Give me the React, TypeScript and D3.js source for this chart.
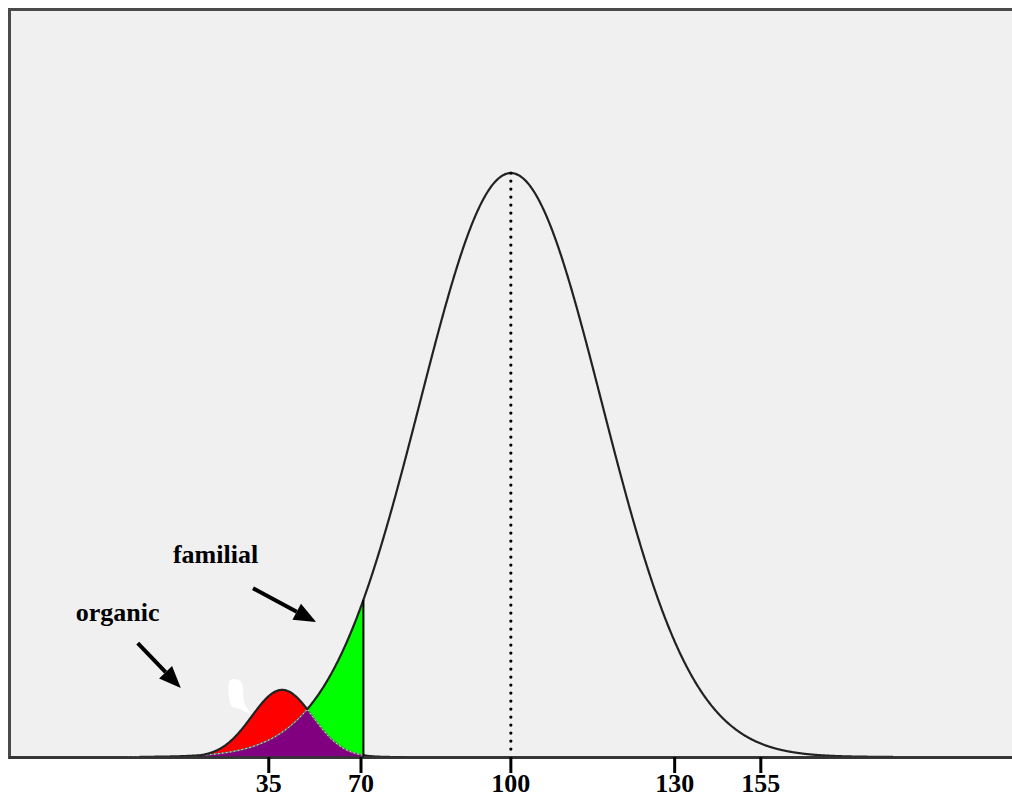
import * as d3 from "d3"

// two bell curves: familial (main population) and organic
const curveNames = ["familial", "organic"]
const curveMeans = [100, 62.3]
const curveSds = [15, 5]
const curvePeaks = [1, 0.115]

// shaded region ends here (IQ)
const cutoff = 75.7

// tick labels, and where the original figure puts them on the curve scale
const tickLabels = ["35", "70", "100", "130", "155"]
const tickAt = [60.1, 75.3, 100, 127.0, 141.2]

// annotation text and arrows in data units (IQ, relative height)
const noteText = ["familial", "organic"]
const noteAt: [number, number][] = [[44.3, 0.332], [28.3, 0.233]]
const arrowFrom: [number, number][] = [[57.5, 0.289], [38.5, 0.195]]
const arrowTo: [number, number][] = [[67.9, 0.231], [45.6, 0.118]]

const W = 1012
const H = 797
const margin = { top: 9, left: 9, bottom: 40 }

const pdf = (v: number, i: number) =>
  curvePeaks[i] * Math.exp(-0.5 * ((v - curveMeans[i]) / curveSds[i]) ** 2)
const main = (v: number) => pdf(v, 0)
const organic = (v: number) => pdf(v, 1)

export default function App() {
  const base = H - margin.bottom
  const x = d3.scaleLinear().domain([15.8, 182.6]).range([0, W])
  const y = d3.scaleLinear().domain([0, 1.281]).range([base, margin.top])

  const grid = (a: number, b: number) => [...d3.range(a, b, 0.1), b]

  const shaded = grid(37, cutoff)
  const areaOf = (f: (v: number) => number) =>
    d3.area<number>().x((d) => x(d)).y0(y(0)).y1((d) => y(f(d)))(shaded)!

  const line = (f: (v: number) => number, pts: number[], def?: (v: number) => boolean) =>
    d3
      .line<number>()
      .defined(def ?? (() => true))
      .x((d) => x(d))
      .y((d) => y(f(d)))(pts)!

  const envelope = line((v) => Math.max(main(v), organic(v)), grid(38.8, 163))
  const mainUnder = line(main, shaded, (v) => main(v) < organic(v) && v > 49)
  const orgUnder = line(organic, shaded, (v) => organic(v) <= main(v))
  const orgTail = line(organic, grid(cutoff, 82.5))

  const arrows = arrowFrom.map((f, i) => {
    const [x1, y1] = [x(f[0]), y(f[1])]
    const [x2, y2] = [x(arrowTo[i][0]), y(arrowTo[i][1])]
    const len = Math.hypot(x2 - x1, y2 - y1)
    const ux = (x2 - x1) / len
    const uy = (y2 - y1) / len
    const hl = 22
    const hw = 9
    const bx = x2 - ux * hl
    const by = y2 - uy * hl
    const head = `M${x2},${y2}L${bx - uy * hw},${by + ux * hw}L${bx + uy * hw},${by - ux * hw}Z`
    return { x1, y1, bx, by, head }
  })

  const font = "'Liberation Serif', 'Times New Roman', serif"

  // stray white blot in the original figure, placed in data units
  const blot = d3.line().curve(d3.curveCardinalClosed)([
    [x(53.6), y(0.13)],
    [x(55.6), y(0.128)],
    [x(56.0), y(0.095)],
    [x(57.0), y(0.075)],
    [x(55.4), y(0.082)],
    [x(53.8), y(0.09)],
  ])!

  return (
    <svg width={W} height={H} style={{ position: "absolute", left: 0, top: 0, background: "#fff" }}>
      <rect
        x={margin.left + 0.5}
        y={margin.top + 0.5}
        width={W + 20}
        height={base - margin.top}
        fill="#f0f0f0"
        stroke="#4a4a4a"
        strokeWidth={3}
      />

      {/* shaded regions */}
      <path d={areaOf(main)} fill="#00ff00" />
      <path d={areaOf(organic)} fill="#ff0000" />
      <path d={areaOf((v) => Math.min(main(v), organic(v)))} fill="#800080" />

      <path d={blot} fill="#fff" />

      {/* inner boundaries */}
      {[mainUnder, orgUnder].map((d, i) => (
        <g key={i}>
          <path d={d} fill="none" stroke="#666" strokeWidth={1.6} />
          <path d={d} fill="none" stroke="#fff" strokeWidth={1} strokeDasharray="1.5 2.5" />
        </g>
      ))}

      <path d={orgTail} fill="none" stroke="#222" strokeWidth={2} />
      <path d={envelope} fill="none" stroke="#222" strokeWidth={2.2} />

      {/* cutoff line */}
      <line x1={x(cutoff)} x2={x(cutoff)} y1={y(0)} y2={y(main(cutoff))} stroke="#000" strokeWidth={2} />

      {/* mean line */}
      <line
        x1={x(100)}
        x2={x(100)}
        y1={y(1)}
        y2={y(0)}
        stroke="#000"
        strokeWidth={3.2}
        strokeLinecap="round"
        strokeDasharray="0 8"
      />

      {/* axis */}
      <line x1={margin.left} x2={W} y1={base + 0.5} y2={base + 0.5} stroke="#333" strokeWidth={2.5} />
      {tickAt.map((t, i) => (
        <g key={tickLabels[i]} transform={`translate(${x(t)},${base})`}>
          <line y1={0} y2={16} stroke="#000" strokeWidth={3} />
          <text y={35} textAnchor="middle" fontFamily={font} fontWeight="bold" fontSize={26}>
            {tickLabels[i]}
          </text>
        </g>
      ))}

      {/* annotations */}
      {arrows.map((a, i) => (
        <g key={curveNames[i]}>
          <line x1={a.x1} y1={a.y1} x2={a.bx} y2={a.by} stroke="#000" strokeWidth={4} />
          <path d={a.head} fill="#000" />
          <text
            x={x(noteAt[i][0])}
            y={y(noteAt[i][1])}
            fontFamily={font}
            fontWeight="bold"
            fontSize={26}
          >
            {noteText[i]}
          </text>
        </g>
      ))}
    </svg>
  )
}
